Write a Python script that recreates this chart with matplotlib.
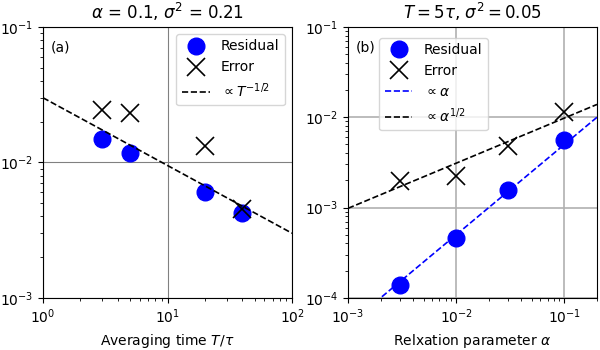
import numpy as np
import matplotlib.pyplot as plt

# (a) fixed alpha, varying averaging time
T_vals = [3, 5, 20, 40]
res_a = [0.0149, 0.0117, 0.0060, 0.0042]
err_a = [0.0244, 0.0232, 0.0132, 0.0045]
coef_a = 0.03  # prefactor of T^-1/2

# (b) fixed T, varying relaxation parameter
alpha_vals = [0.003, 0.01, 0.03, 0.1]
res_b = [0.000139, 0.00046, 0.00157, 0.0056]
err_b = [0.00197, 0.00222, 0.0048, 0.0115]
coef_lin = 0.05   # prefactor of alpha
coef_sqrt = 0.031  # prefactor of alpha^1/2

fig = plt.figure(figsize=(6, 3.5), dpi=100)
ax1 = fig.add_axes([0.0717, 0.149, 0.415, 0.774])
ax2 = fig.add_axes([0.58, 0.149, 0.415, 0.774])

# left panel
ax1.plot(T_vals, res_a, 'o', color='blue', markersize=12, label='Residual')
ax1.plot(T_vals, err_a, 'x', color='black', markersize=13, mew=1.2, label='Error')
Tl = np.logspace(0, 2, 50)
ax1.plot(Tl, coef_a * Tl ** -0.5, '--', color='black', lw=1.2, label=r'$\propto T^{-1/2}$')
ax1.set_xscale('log')
ax1.set_yscale('log')
ax1.set_xlim(1, 100)
ax1.set_ylim(1e-3, 1e-1)
ax1.grid(which='major', color='grey', lw=0.8)
ax1.set_xlabel(r'Averaging time $T/\tau$')
ax1.set_title(r'$\alpha$ = 0.1, $\sigma^2$ = 0.21')
ax1.text(0.03, 0.95, '(a)', transform=ax1.transAxes, va='top')
ax1.legend(loc='upper right', fontsize=10)

# right panel
ax2.plot(alpha_vals, res_b, 'o', color='blue', markersize=12, label='Residual')
ax2.plot(alpha_vals, err_b, 'x', color='black', markersize=13, mew=1.2, label='Error')
al = np.logspace(-3, np.log10(0.2), 50)
ax2.plot(al, coef_lin * al, '--', color='blue', lw=1.2, label=r'$\propto \alpha$')
ax2.plot(al, coef_sqrt * al ** 0.5, '--', color='black', lw=1.2, label=r'$\propto \alpha^{1/2}$')
ax2.set_xscale('log')
ax2.set_yscale('log')
ax2.set_xlim(1e-3, 0.2)
ax2.set_ylim(1e-4, 1e-1)
ax2.grid(which='major', color='#b0b0b0', lw=1.2)
ax2.set_xlabel(r'Relxation parameter $\alpha$')
ax2.set_title(r'$T = 5\tau$, $\sigma^2 = 0.05$')
ax2.text(0.03, 0.95, '(b)', transform=ax2.transAxes, va='top')
ax2.legend(loc='upper left', bbox_to_anchor=(0.125, 0.96), borderaxespad=0, fontsize=10)

fig.savefig('out.png')
